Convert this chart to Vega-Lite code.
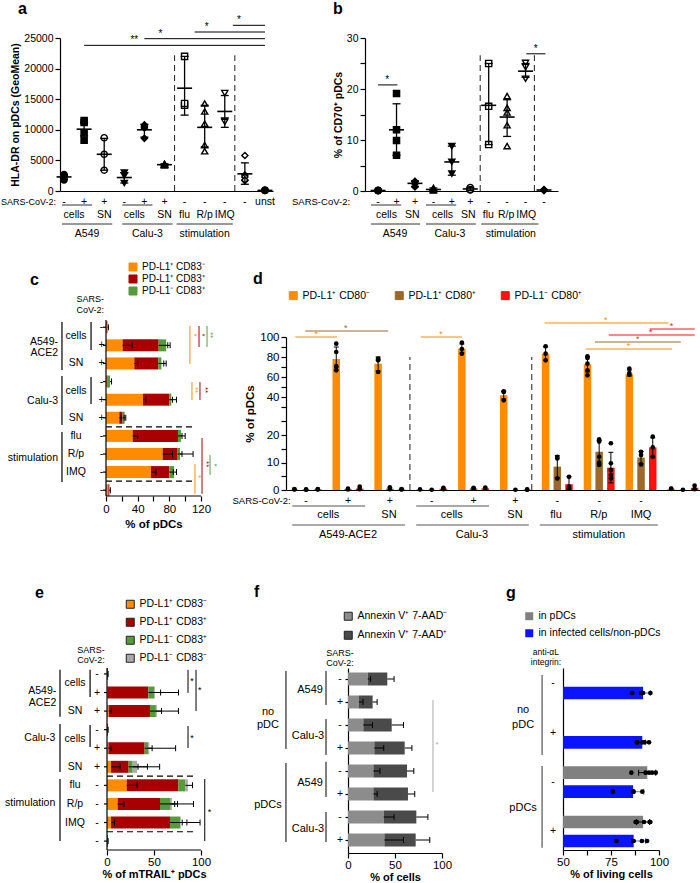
{
"$schema": "https://vega.github.io/schema/vega-lite/v6.json",
"padding": {"left": 0, "top": 0, "right": 0, "bottom": 0},
"columns": 1,
"align": "none",
"spacing": 22,
"resolve": {"scale": {"color": "independent", "fill": "independent", "shape": "independent", "stroke": "independent"}},
"config": {
  "font": "Liberation Sans",
  "view": {"stroke": null},
  "axis": {"grid": false, "domainColor": "#000", "tickColor": "#000", "labelColor": "#000", "titleColor": "#000", "labelFontSize": 10.5, "titleFontSize": 10.5, "titleFontWeight": "bold", "tickSize": 5, "labelPadding": 2, "titlePadding": 4, "domainWidth": 1.2, "tickWidth": 1.2, "labelFlush": false, "labelOverlap": false},
  "legend": {"title": null, "symbolType": "square", "labelFontSize": 10.5, "labelColor": "#000", "symbolStrokeColor": "#222", "symbolStrokeWidth": 1, "symbolSize": 64, "labelOffset": 4, "padding": 0, "direction": "vertical"},
  "text": {"fontSize": 10.5, "color": "#000"},
  "rule": {"color": "#000"},
  "tick": {"color": "#000", "opacity": 1}
},
"datasets": {
  "yt10": [{"x":0,"y":1},{"x":0,"y":2},{"x":0,"y":3},{"x":0,"y":4},{"x":0,"y":5},{"x":0,"y":6},{"x":0,"y":7},{"x":0,"y":8},{"x":0,"y":9},{"x":0,"y":10}],
  "a_pts": [
    {"x":1,"y":1800},{"x":1,"y":2300},{"x":1,"y":2500},{"x":1,"y":2600},{"x":1,"y":2700},
    {"x":2,"y":11500},{"x":2,"y":11200},{"x":2,"y":9500},{"x":2,"y":8300},
    {"x":3,"y":8700},{"x":3,"y":6000},{"x":3,"y":3400},
    {"x":4,"y":3000},{"x":4,"y":2500},{"x":4,"y":1300},
    {"x":5,"y":10800},{"x":5,"y":10300},{"x":5,"y":10500},{"x":5,"y":8600},
    {"x":6,"y":4300},{"x":6,"y":4450},{"x":6,"y":4200},{"x":6,"y":4350},
    {"x":7,"y":22000},{"x":7,"y":14000},{"x":7,"y":14300},
    {"x":8,"y":14300},{"x":8,"y":13000},{"x":8,"y":11000},{"x":8,"y":7500},{"x":8,"y":6500},
    {"x":9,"y":16000},{"x":9,"y":11500},{"x":9,"y":11300},
    {"x":10,"y":5800},{"x":10,"y":2600},{"x":10,"y":2300},{"x":10,"y":1700},{"x":10,"y":1800},
    {"x":11,"y":100},{"x":11,"y":80},{"x":11,"y":120},{"x":11,"y":90},{"x":11,"y":110}
  ],
  "a_sum": [
    {"x":1,"y":2300,"lo":1900,"hi":2700},{"x":2,"y":10100,"lo":9000,"hi":11200},{"x":3,"y":6000,"lo":3400,"hi":8600},
    {"x":4,"y":2200,"lo":1300,"hi":3000},{"x":5,"y":10000,"lo":8800,"hi":10900},{"x":6,"y":4300,"lo":4150,"hi":4450},
    {"x":7,"y":16800,"lo":12400,"hi":22000},{"x":8,"y":10400,"lo":7200,"hi":14000},{"x":9,"y":13000,"lo":10400,"hi":15600},
    {"x":10,"y":2800,"lo":1100,"hi":4600},{"x":11,"y":100,"lo":100,"hi":100}
  ],
  "a_sig": [
    {"x":2,"x2":11,"y":23800,"xs":4.5,"t":"**"},{"x":5,"x2":11,"y":24890,"xs":5.8,"t":"*"},
    {"x":7.5,"x2":11,"y":25980,"xs":8.1,"t":"*"},{"x":9.4,"x2":11,"y":27075,"xs":9.7,"t":"*"}
  ],
  "a_dash": [{"x":6.5,"y":0,"y2":22200},{"x":9.5,"y":0,"y2":22200}],
  "a_lab": [
    {"x":0.6,"y":0,"t":"SARS-CoV-2:","lvl":0},
    {"x":1,"y":0,"t":"-","lvl":1},{"x":2,"y":0,"t":"+","lvl":1},{"x":3,"y":0,"t":"+","lvl":1},{"x":4,"y":0,"t":"-","lvl":1},{"x":5,"y":0,"t":"+","lvl":1},{"x":6,"y":0,"t":"+","lvl":1},{"x":7,"y":0,"t":"-","lvl":1},{"x":8,"y":0,"t":"-","lvl":1},{"x":9,"y":0,"t":"-","lvl":1},{"x":10,"y":0,"t":"-","lvl":1},{"x":11,"y":0,"t":"unst","lvl":1},
    {"x":1.5,"y":0,"t":"cells","lvl":2},{"x":3,"y":0,"t":"SN","lvl":2},{"x":4.5,"y":0,"t":"cells","lvl":2},{"x":6,"y":0,"t":"SN","lvl":2},{"x":7,"y":0,"t":"flu","lvl":2},{"x":8,"y":0,"t":"R/p","lvl":2},{"x":9,"y":0,"t":"IMQ","lvl":2},
    {"x":2.15,"y":0,"t":"A549","lvl":3},{"x":5.15,"y":0,"t":"Calu-3","lvl":3},{"x":8,"y":0,"t":"stimulation","lvl":3}
  ],
  "a_line": [{"x":0.9,"x2":2.4,"y":0,"lvl":1},{"x":3.9,"x2":5.4,"y":0,"lvl":1},{"x":0.9,"x2":3.4,"y":0,"lvl":2},{"x":3.9,"x2":6.4,"y":0,"lvl":2},{"x":6.6,"x2":9.4,"y":0,"lvl":2}],
  "b_pts": [
    {"x":1,"y":0.1},{"x":1,"y":0.1},{"x":1,"y":0.15},{"x":1,"y":0.1},{"x":1,"y":0.05},
    {"x":2,"y":19.1},{"x":2,"y":12},{"x":2,"y":9.9},{"x":2,"y":7.0},
    {"x":3,"y":0.8},{"x":3,"y":1.4},{"x":3,"y":1.9},{"x":3,"y":1.8},
    {"x":4,"y":0.1},{"x":4,"y":0.6},{"x":4,"y":0.3},
    {"x":5,"y":8.8},{"x":5,"y":5.7},{"x":5,"y":3.4},
    {"x":6,"y":0.2},{"x":6,"y":0.5},{"x":6,"y":0.7},{"x":6,"y":0.3},
    {"x":7,"y":25},{"x":7,"y":16.6},{"x":7,"y":9.1},
    {"x":8,"y":18.6},{"x":8,"y":16.3},{"x":8,"y":15.4},{"x":8,"y":12.9},{"x":8,"y":8.8},
    {"x":9,"y":25.1},{"x":9,"y":24.3},{"x":9,"y":22},
    {"x":10,"y":0.2},{"x":10,"y":0.1},{"x":10,"y":0.3},{"x":10,"y":0.1}
  ],
  "b_sum": [
    {"x":1,"y":0.1,"lo":0.1,"hi":0.1},{"x":2,"y":12,"lo":7,"hi":17.1},{"x":3,"y":1.5,"lo":0.9,"hi":2.0},
    {"x":4,"y":0.3,"lo":0.05,"hi":0.6},{"x":5,"y":5.7,"lo":3.1,"hi":8.8},{"x":6,"y":0.4,"lo":0.1,"hi":0.7},
    {"x":7,"y":16.8,"lo":9.1,"hi":25},{"x":8,"y":14.5,"lo":10.7,"hi":17.9},{"x":9,"y":23.5,"lo":22.3,"hi":25},
    {"x":10,"y":0.2,"lo":0.1,"hi":0.3}
  ],
  "b_sig": [{"x":1.0,"x2":2.05,"y":20.8,"xs":1.5,"t":"*"},{"x":9.04,"x2":10.08,"y":26.9,"xs":9.55,"t":"*"}],
  "b_dash": [{"x":6.54,"y":0,"y2":26.6},{"x":9.48,"y":0,"y2":26.6}],
  "b_lab": [
    {"x":-0.52,"y":0,"t":"SARS-CoV-2:","lvl":0},
    {"x":1,"y":0,"t":"-","lvl":1},{"x":2,"y":0,"t":"+","lvl":1},{"x":3,"y":0,"t":"+","lvl":1},{"x":4,"y":0,"t":"-","lvl":1},{"x":5,"y":0,"t":"+","lvl":1},{"x":6,"y":0,"t":"+","lvl":1},{"x":7,"y":0,"t":"-","lvl":1},{"x":8,"y":0,"t":"-","lvl":1},{"x":9,"y":0,"t":"-","lvl":1},{"x":10,"y":0,"t":"-","lvl":1},
    {"x":1.45,"y":0,"t":"cells","lvl":2},{"x":2.85,"y":0,"t":"SN","lvl":2},{"x":4.5,"y":0,"t":"cells","lvl":2},{"x":5.9,"y":0,"t":"SN","lvl":2},{"x":6.98,"y":0,"t":"flu","lvl":2},{"x":7.95,"y":0,"t":"R/p","lvl":2},{"x":9.04,"y":0,"t":"IMQ","lvl":2},
    {"x":1.92,"y":0,"t":"A549","lvl":3},{"x":4.9,"y":0,"t":"Calu-3","lvl":3},{"x":8.2,"y":0,"t":"stimulation","lvl":3}
  ],
  "b_line": [{"x":0.62,"x2":2.25,"y":0,"lvl":1},{"x":3.6,"x2":5.24,"y":0,"lvl":1},{"x":0.62,"x2":3.28,"y":0,"lvl":2},{"x":3.6,"x2":6.3,"y":0,"lvl":2},{"x":6.6,"x2":9.7,"y":0,"lvl":2}],
  "c_seg": [
    {"y":1,"ser":"PD-L1⁺ CD83⁻","x":0,"x2":0.7},{"y":1,"ser":"PD-L1⁺ CD83⁺","x":0.7,"x2":1.3},{"y":1,"ser":"PD-L1⁻ CD83⁺","x":1.3,"x2":2},
    {"y":2,"ser":"PD-L1⁺ CD83⁻","x":0,"x2":21},{"y":2,"ser":"PD-L1⁺ CD83⁺","x":21,"x2":66.5},{"y":2,"ser":"PD-L1⁻ CD83⁺","x":66.5,"x2":76},
    {"y":3,"ser":"PD-L1⁺ CD83⁻","x":0,"x2":35.8},{"y":3,"ser":"PD-L1⁺ CD83⁺","x":35.8,"x2":66},{"y":3,"ser":"PD-L1⁻ CD83⁺","x":66,"x2":70},
    {"y":4,"ser":"PD-L1⁺ CD83⁻","x":0,"x2":1},{"y":4,"ser":"PD-L1⁺ CD83⁺","x":1,"x2":2},{"y":4,"ser":"PD-L1⁻ CD83⁺","x":2,"x2":5},
    {"y":5,"ser":"PD-L1⁺ CD83⁻","x":0,"x2":46.7},{"y":5,"ser":"PD-L1⁺ CD83⁺","x":46.7,"x2":80},{"y":5,"ser":"PD-L1⁻ CD83⁺","x":80,"x2":82.5},
    {"y":6,"ser":"PD-L1⁺ CD83⁻","x":0,"x2":16.8},{"y":6,"ser":"PD-L1⁺ CD83⁺","x":16.8,"x2":21},{"y":6,"ser":"PD-L1⁻ CD83⁺","x":21,"x2":23.6},
    {"y":7,"ser":"PD-L1⁺ CD83⁻","x":0,"x2":33.7},{"y":7,"ser":"PD-L1⁺ CD83⁺","x":33.7,"x2":91},{"y":7,"ser":"PD-L1⁻ CD83⁺","x":91,"x2":94.7},
    {"y":8,"ser":"PD-L1⁺ CD83⁻","x":0,"x2":71.6},{"y":8,"ser":"PD-L1⁺ CD83⁺","x":71.6,"x2":90.5},{"y":8,"ser":"PD-L1⁻ CD83⁺","x":90.5,"x2":93.5},
    {"y":9,"ser":"PD-L1⁺ CD83⁻","x":0,"x2":56.8},{"y":9,"ser":"PD-L1⁺ CD83⁺","x":56.8,"x2":80},{"y":9,"ser":"PD-L1⁻ CD83⁺","x":80,"x2":86},
    {"y":10,"ser":"PD-L1⁺ CD83⁻","x":0,"x2":3},{"y":10,"ser":"PD-L1⁺ CD83⁺","x":3,"x2":4},{"y":10,"ser":"PD-L1⁻ CD83⁺","x":4,"x2":4.5}
  ],
  "c_err": [
    {"y":1,"x":2,"x2":3},
    {"y":2,"x":21,"x2":33},{"y":2,"x":66.5,"x2":78},{"y":2,"x":76,"x2":81},
    {"y":3,"x":35.8,"x2":40},{"y":3,"x":66,"x2":73},{"y":3,"x":70,"x2":76},
    {"y":4,"x":5,"x2":7},
    {"y":5,"x":46.7,"x2":50.5},{"y":5,"x":80,"x2":84},{"y":5,"x":82.5,"x2":89},
    {"y":6,"x":16.8,"x2":19},{"y":6,"x":21,"x2":23},{"y":6,"x":23.6,"x2":25},
    {"y":7,"x":33.7,"x2":40},{"y":7,"x":91,"x2":96},{"y":7,"x":94.7,"x2":100},
    {"y":8,"x":71.6,"x2":84},{"y":8,"x":90.5,"x2":110},{"y":8,"x":93.5,"x2":96},
    {"y":9,"x":56.8,"x2":63},{"y":9,"x":80,"x2":85},{"y":9,"x":86,"x2":89},
    {"y":10,"x":4,"x2":5.5}
  ],
  "c_sig": [
    {"x":106,"y":0.93,"y2":3.03,"ser":"PD-L1⁺ CD83⁻"},{"x":117.5,"y":0.93,"y2":2.09,"ser":"PD-L1⁺ CD83⁺"},{"x":127.6,"y":0.93,"y2":2.09,"ser":"PD-L1⁻ CD83⁺"},
    {"x":108.6,"y":4.03,"y2":5.02,"ser":"PD-L1⁺ CD83⁻"},{"x":118.7,"y":4.03,"y2":5.02,"ser":"PD-L1⁺ CD83⁺"},
    {"x":112.4,"y":8.56,"y2":10.2,"ser":"PD-L1⁺ CD83⁻"},{"x":121.3,"y":7.12,"y2":10.2,"ser":"PD-L1⁺ CD83⁺"},{"x":131.4,"y":8.06,"y2":9.16,"ser":"PD-L1⁻ CD83⁺"}
  ],
  "c_star": [
    {"x":110.7,"y":1.43,"t":"*","ser":"PD-L1⁺ CD83⁻"},{"x":121,"y":1.43,"t":"*","ser":"PD-L1⁺ CD83⁺"},{"x":131.7,"y":1.43,"t":"**","ser":"PD-L1⁻ CD83⁺"},
    {"x":112.8,"y":4.47,"t":"**","ser":"PD-L1⁺ CD83⁻"},{"x":124.5,"y":4.47,"t":"**","ser":"PD-L1⁺ CD83⁺"},
    {"x":116.2,"y":9.25,"t":"*","ser":"PD-L1⁺ CD83⁻"},{"x":126.7,"y":8.56,"t":"**","ser":"PD-L1⁺ CD83⁺"},{"x":135.9,"y":8.61,"t":"*","ser":"PD-L1⁻ CD83⁺"}
  ],
  "c_dash": [{"y":6.5,"x":0,"x2":110},{"y":9.5,"x":0,"x2":110}],
  "c_lab": [
    {"x":-5.7,"y":1,"t":"-","k":"s"},{"x":-5.7,"y":2,"t":"+","k":"s"},{"x":-5.7,"y":3,"t":"+","k":"s"},{"x":-5.7,"y":4,"t":"-","k":"s"},{"x":-5.7,"y":5,"t":"+","k":"s"},
    {"x":-5.7,"y":6,"t":"+","k":"s"},{"x":-5.7,"y":7,"t":"-","k":"s"},{"x":-5.7,"y":8,"t":"-","k":"s"},{"x":-5.7,"y":9,"t":"-","k":"s"},{"x":-5.7,"y":10,"t":"-","k":"s"},
    {"x":-37.9,"y":1.5,"t":"cells","k":"m"},{"x":-37.9,"y":3,"t":"SN","k":"m"},{"x":-37.9,"y":4.5,"t":"cells","k":"m"},{"x":-37.9,"y":6,"t":"SN","k":"m"},
    {"x":-37.9,"y":7,"t":"flu","k":"m"},{"x":-37.9,"y":8,"t":"R/p","k":"m"},{"x":-37.9,"y":9,"t":"IMQ","k":"m"},
    {"x":-60.6,"y":1.82,"t":["A549-","ACE2"],"k":"g"},{"x":-60.6,"y":5.07,"t":"Calu-3","k":"g"},{"x":-60.6,"y":8.2,"t":"stimulation","k":"g"},
    {"x":-20,"y":-0.56,"t":["SARS-","CoV-2:"],"k":"c"}
  ],
  "c_vl": [
    {"x":-55.6,"y":0.71,"y2":3.36},{"x":-55.6,"y":3.69,"y2":6.4},{"x":-55.6,"y":6.79,"y2":9.55},
    {"x":-18.9,"y":0.71,"y2":2.26},{"x":-18.9,"y":3.75,"y2":5.24},
    {"x":0,"y":0.6,"y2":10.32}
  ],
  "d_bar": [
    {"x":1,"ser":"PD-L1⁺ CD80⁻","y":0.2},{"x":1,"ser":"PD-L1⁺ CD80⁺","y":0.1},{"x":1,"ser":"PD-L1⁻ CD80⁺","y":0.2},
    {"x":2,"ser":"PD-L1⁺ CD80⁻","y":78},{"x":2,"ser":"PD-L1⁺ CD80⁺","y":0.3},{"x":2,"ser":"PD-L1⁻ CD80⁺","y":0.5},
    {"x":3,"ser":"PD-L1⁺ CD80⁻","y":73.3},{"x":3,"ser":"PD-L1⁺ CD80⁺","y":0.5},{"x":3,"ser":"PD-L1⁻ CD80⁺","y":0.2},
    {"x":4,"ser":"PD-L1⁺ CD80⁻","y":0.2},{"x":4,"ser":"PD-L1⁺ CD80⁺","y":0.1},{"x":4,"ser":"PD-L1⁻ CD80⁺","y":0.5},
    {"x":5,"ser":"PD-L1⁺ CD80⁻","y":88.3},{"x":5,"ser":"PD-L1⁺ CD80⁺","y":0.6},{"x":5,"ser":"PD-L1⁻ CD80⁺","y":0.6},
    {"x":6,"ser":"PD-L1⁺ CD80⁻","y":41.7},{"x":6,"ser":"PD-L1⁺ CD80⁺","y":0.05},{"x":6,"ser":"PD-L1⁻ CD80⁺","y":0.1},
    {"x":7,"ser":"PD-L1⁺ CD80⁻","y":83.3},{"x":7,"ser":"PD-L1⁺ CD80⁺","y":8.5},{"x":7,"ser":"PD-L1⁻ CD80⁺","y":2.1},
    {"x":8,"ser":"PD-L1⁺ CD80⁻","y":72.7},{"x":8,"ser":"PD-L1⁺ CD80⁺","y":13.9},{"x":8,"ser":"PD-L1⁻ CD80⁺","y":8.1},
    {"x":9,"ser":"PD-L1⁺ CD80⁻","y":63.3},{"x":9,"ser":"PD-L1⁺ CD80⁺","y":11.8},{"x":9,"ser":"PD-L1⁻ CD80⁺","y":15.5},
    {"x":10,"ser":"PD-L1⁺ CD80⁻","y":0.4},{"x":10,"ser":"PD-L1⁺ CD80⁺","y":0.05},{"x":10,"ser":"PD-L1⁻ CD80⁺","y":0.8}
  ],
  "d_err": [
    {"x":2,"ser":"PD-L1⁺ CD80⁻","lo":67,"hi":90},{"x":3,"ser":"PD-L1⁺ CD80⁻","lo":66,"hi":80},{"x":5,"ser":"PD-L1⁺ CD80⁻","lo":84,"hi":93},
    {"x":6,"ser":"PD-L1⁺ CD80⁻","lo":38,"hi":46},{"x":7,"ser":"PD-L1⁺ CD80⁻","lo":77,"hi":90},{"x":7,"ser":"PD-L1⁺ CD80⁺","lo":4.5,"hi":12.5},
    {"x":7,"ser":"PD-L1⁻ CD80⁺","lo":0.2,"hi":4.8},{"x":8,"ser":"PD-L1⁺ CD80⁻","lo":65,"hi":80},{"x":8,"ser":"PD-L1⁺ CD80⁺","lo":9.5,"hi":18},
    {"x":8,"ser":"PD-L1⁻ CD80⁺","lo":2.6,"hi":13.7},{"x":9,"ser":"PD-L1⁺ CD80⁻","lo":61,"hi":67},{"x":9,"ser":"PD-L1⁺ CD80⁺","lo":9.6,"hi":14},
    {"x":9,"ser":"PD-L1⁻ CD80⁺","lo":12,"hi":19}
  ],
  "d_pts": [
    {"x":1,"ser":"PD-L1⁺ CD80⁻","y":0.2},{"x":1,"ser":"PD-L1⁺ CD80⁻","y":0.3},{"x":1,"ser":"PD-L1⁺ CD80⁺","y":0.1},{"x":1,"ser":"PD-L1⁺ CD80⁺","y":0.2},{"x":1,"ser":"PD-L1⁻ CD80⁺","y":0.2},{"x":1,"ser":"PD-L1⁻ CD80⁺","y":0.3},
    {"x":2,"ser":"PD-L1⁺ CD80⁻","y":93.3},{"x":2,"ser":"PD-L1⁺ CD80⁻","y":85},{"x":2,"ser":"PD-L1⁺ CD80⁻","y":71},{"x":2,"ser":"PD-L1⁺ CD80⁻","y":66.7},{"x":2,"ser":"PD-L1⁺ CD80⁻","y":70},
    {"x":2,"ser":"PD-L1⁺ CD80⁺","y":0.2},{"x":2,"ser":"PD-L1⁺ CD80⁺","y":0.5},{"x":2,"ser":"PD-L1⁻ CD80⁺","y":0.3},{"x":2,"ser":"PD-L1⁻ CD80⁺","y":1.2},
    {"x":3,"ser":"PD-L1⁺ CD80⁻","y":78.3},{"x":3,"ser":"PD-L1⁺ CD80⁻","y":76.7},{"x":3,"ser":"PD-L1⁺ CD80⁻","y":77.5},{"x":3,"ser":"PD-L1⁺ CD80⁻","y":65},
    {"x":3,"ser":"PD-L1⁺ CD80⁺","y":0.3},{"x":3,"ser":"PD-L1⁺ CD80⁺","y":1.0},{"x":3,"ser":"PD-L1⁻ CD80⁺","y":0.2},{"x":3,"ser":"PD-L1⁻ CD80⁺","y":0.3},
    {"x":4,"ser":"PD-L1⁺ CD80⁻","y":0.2},{"x":4,"ser":"PD-L1⁺ CD80⁺","y":0.1},{"x":4,"ser":"PD-L1⁻ CD80⁺","y":0.3},{"x":4,"ser":"PD-L1⁻ CD80⁺","y":0.8},
    {"x":5,"ser":"PD-L1⁺ CD80⁻","y":94.3},{"x":5,"ser":"PD-L1⁺ CD80⁻","y":88},{"x":5,"ser":"PD-L1⁺ CD80⁻","y":83.3},
    {"x":5,"ser":"PD-L1⁺ CD80⁺","y":0.5},{"x":5,"ser":"PD-L1⁺ CD80⁺","y":0.8},{"x":5,"ser":"PD-L1⁻ CD80⁺","y":0.5},{"x":5,"ser":"PD-L1⁻ CD80⁺","y":0.9},
    {"x":6,"ser":"PD-L1⁺ CD80⁻","y":45.7},{"x":6,"ser":"PD-L1⁺ CD80⁻","y":45},{"x":6,"ser":"PD-L1⁺ CD80⁻","y":36.7},
    {"x":6,"ser":"PD-L1⁺ CD80⁺","y":0.1},{"x":6,"ser":"PD-L1⁻ CD80⁺","y":0.1},{"x":6,"ser":"PD-L1⁻ CD80⁺","y":0.2},
    {"x":7,"ser":"PD-L1⁺ CD80⁻","y":90.7},{"x":7,"ser":"PD-L1⁺ CD80⁻","y":83.3},{"x":7,"ser":"PD-L1⁺ CD80⁻","y":76.7},
    {"x":7,"ser":"PD-L1⁺ CD80⁺","y":12.1},{"x":7,"ser":"PD-L1⁺ CD80⁺","y":11.5},{"x":7,"ser":"PD-L1⁺ CD80⁺","y":4.2},
    {"x":7,"ser":"PD-L1⁻ CD80⁺","y":4.8},{"x":7,"ser":"PD-L1⁻ CD80⁺","y":1.2},{"x":7,"ser":"PD-L1⁻ CD80⁺","y":0.6},
    {"x":8,"ser":"PD-L1⁺ CD80⁻","y":80.7},{"x":8,"ser":"PD-L1⁺ CD80⁻","y":79},{"x":8,"ser":"PD-L1⁺ CD80⁻","y":73.3},{"x":8,"ser":"PD-L1⁺ CD80⁻","y":66.7},{"x":8,"ser":"PD-L1⁺ CD80⁻","y":61.7},
    {"x":8,"ser":"PD-L1⁺ CD80⁺","y":18.4},{"x":8,"ser":"PD-L1⁺ CD80⁺","y":17.6},{"x":8,"ser":"PD-L1⁺ CD80⁺","y":12.1},{"x":8,"ser":"PD-L1⁺ CD80⁺","y":9.1},{"x":8,"ser":"PD-L1⁺ CD80⁺","y":10},
    {"x":8,"ser":"PD-L1⁻ CD80⁺","y":17},{"x":8,"ser":"PD-L1⁻ CD80⁺","y":9.7},{"x":8,"ser":"PD-L1⁻ CD80⁺","y":7.3},{"x":8,"ser":"PD-L1⁻ CD80⁺","y":5.5},{"x":8,"ser":"PD-L1⁻ CD80⁺","y":4.2},
    {"x":9,"ser":"PD-L1⁺ CD80⁻","y":68.3},{"x":9,"ser":"PD-L1⁺ CD80⁻","y":64},{"x":9,"ser":"PD-L1⁺ CD80⁻","y":62.3},
    {"x":9,"ser":"PD-L1⁺ CD80⁺","y":13.9},{"x":9,"ser":"PD-L1⁺ CD80⁺","y":12.7},{"x":9,"ser":"PD-L1⁺ CD80⁺","y":9.3},
    {"x":9,"ser":"PD-L1⁻ CD80⁺","y":19.4},{"x":9,"ser":"PD-L1⁻ CD80⁺","y":15.5},{"x":9,"ser":"PD-L1⁻ CD80⁺","y":12.1},
    {"x":10,"ser":"PD-L1⁺ CD80⁻","y":0.4},{"x":10,"ser":"PD-L1⁺ CD80⁻","y":0.5},{"x":10,"ser":"PD-L1⁺ CD80⁺","y":0.1},{"x":10,"ser":"PD-L1⁻ CD80⁺","y":0.3},{"x":10,"ser":"PD-L1⁻ CD80⁺","y":1.6}
  ],
  "d_sig": [
    {"x":0.74,"x2":1.74,"y":100,"xs":1.24,"ser":"PD-L1⁺ CD80⁻"},{"x":0.98,"x2":2.96,"y":106,"xs":1.95,"ser":"PD-L1⁺ CD80⁺"},
    {"x":3.74,"x2":4.72,"y":100,"xs":4.22,"ser":"PD-L1⁺ CD80⁻"},{"x":6.7,"x2":9.66,"y":114,"xs":8.16,"ser":"PD-L1⁺ CD80⁻"},
    {"x":9.21,"x2":10.28,"y":108,"xs":9.73,"ser":"PD-L1⁻ CD80⁺"},{"x":8.23,"x2":10.28,"y":102,"xs":9.23,"ser":"PD-L1⁻ CD80⁺"},
    {"x":7.9,"x2":9.95,"y":95,"xs":8.92,"ser":"PD-L1⁺ CD80⁺"},{"x":7.68,"x2":9.74,"y":88,"xs":8.7,"ser":"PD-L1⁺ CD80⁻"}
  ],
  "d_dash": [{"x":3.48,"y":0,"y2":80},{"x":6.39,"y":0,"y2":80}],
  "d_lab": [
    {"x":0.63,"y":0,"t":"SARS-CoV-2:","lvl":0},
    {"x":1,"y":0,"t":"-","lvl":1},{"x":2,"y":0,"t":"+","lvl":1},{"x":3,"y":0,"t":"+","lvl":1},{"x":4,"y":0,"t":"-","lvl":1},{"x":5,"y":0,"t":"+","lvl":1},{"x":6,"y":0,"t":"+","lvl":1},{"x":7,"y":0,"t":"-","lvl":1},{"x":8,"y":0,"t":"-","lvl":1},{"x":9,"y":0,"t":"-","lvl":1},
    {"x":1.53,"y":0,"t":"cells","lvl":2},{"x":2.98,"y":0,"t":"SN","lvl":2},{"x":4.48,"y":0,"t":"cells","lvl":2},{"x":5.99,"y":0,"t":"SN","lvl":2},{"x":6.97,"y":0,"t":"flu","lvl":2},{"x":7.99,"y":0,"t":"R/p","lvl":2},{"x":9.0,"y":0,"t":"IMQ","lvl":2},
    {"x":2.0,"y":0,"t":"A549-ACE2","lvl":3},{"x":4.96,"y":0,"t":"Calu-3","lvl":3},{"x":7.99,"y":0,"t":"stimulation","lvl":3}
  ],
  "d_line": [{"x":0.67,"x2":2.41,"y":0,"lvl":1},{"x":3.63,"x2":5.37,"y":0,"lvl":1},{"x":0.67,"x2":3.36,"y":0,"lvl":2},{"x":3.63,"x2":6.32,"y":0,"lvl":2},{"x":6.58,"x2":9.4,"y":0,"lvl":2}],
  "e_seg": [
    {"y":1,"ser":"PD-L1⁺ CD83⁺","x":0,"x2":0.8},
    {"y":2,"ser":"PD-L1⁺ CD83⁻","x":0,"x2":0.5},{"y":2,"ser":"PD-L1⁺ CD83⁺","x":0.5,"x2":44},{"y":2,"ser":"PD-L1⁻ CD83⁺","x":44,"x2":50.4},{"y":2,"ser":"PD-L1⁻ CD83⁻","x":50.4,"x2":51},
    {"y":3,"ser":"PD-L1⁺ CD83⁻","x":0,"x2":1.8},{"y":3,"ser":"PD-L1⁺ CD83⁺","x":1.8,"x2":45.7},{"y":3,"ser":"PD-L1⁻ CD83⁺","x":45.7,"x2":52},{"y":3,"ser":"PD-L1⁻ CD83⁻","x":52,"x2":53},
    {"y":4,"ser":"PD-L1⁺ CD83⁺","x":0,"x2":0.8},
    {"y":5,"ser":"PD-L1⁺ CD83⁻","x":0,"x2":1.5},{"y":5,"ser":"PD-L1⁺ CD83⁺","x":1.5,"x2":40},{"y":5,"ser":"PD-L1⁻ CD83⁺","x":40,"x2":44},{"y":5,"ser":"PD-L1⁻ CD83⁻","x":44,"x2":45},
    {"y":6,"ser":"PD-L1⁺ CD83⁻","x":0,"x2":4.3},{"y":6,"ser":"PD-L1⁺ CD83⁺","x":4.3,"x2":23},{"y":6,"ser":"PD-L1⁻ CD83⁺","x":23,"x2":27.3},{"y":6,"ser":"PD-L1⁻ CD83⁻","x":27.3,"x2":32},
    {"y":7,"ser":"PD-L1⁺ CD83⁻","x":0,"x2":21},{"y":7,"ser":"PD-L1⁺ CD83⁺","x":21,"x2":76},{"y":7,"ser":"PD-L1⁻ CD83⁺","x":76,"x2":83.3},{"y":7,"ser":"PD-L1⁻ CD83⁻","x":83.3,"x2":86},
    {"y":8,"ser":"PD-L1⁺ CD83⁻","x":0,"x2":11.3},{"y":8,"ser":"PD-L1⁺ CD83⁺","x":11.3,"x2":56.4},{"y":8,"ser":"PD-L1⁻ CD83⁺","x":56.4,"x2":67},{"y":8,"ser":"PD-L1⁻ CD83⁻","x":67,"x2":69},
    {"y":9,"ser":"PD-L1⁺ CD83⁻","x":0,"x2":4.3},{"y":9,"ser":"PD-L1⁺ CD83⁺","x":4.3,"x2":67},{"y":9,"ser":"PD-L1⁻ CD83⁺","x":67,"x2":78},{"y":9,"ser":"PD-L1⁻ CD83⁻","x":78,"x2":78.5},
    {"y":10,"ser":"PD-L1⁺ CD83⁺","x":0,"x2":0.8}
  ],
  "e_err": [
    {"y":1,"x":0.8,"x2":1.2},
    {"y":2,"x":44,"x2":57},{"y":2,"x":50.4,"x2":76},
    {"y":3,"x":1.8,"x2":4.5},{"y":3,"x":45.7,"x2":58},{"y":3,"x":52,"x2":76},
    {"y":4,"x":0.8,"x2":1.2},
    {"y":5,"x":1.5,"x2":4.5},{"y":5,"x":40,"x2":48},{"y":5,"x":44,"x2":73},
    {"y":6,"x":4.3,"x2":14},{"y":6,"x":23,"x2":33},{"y":6,"x":27.3,"x2":43},{"y":6,"x":32,"x2":56},
    {"y":7,"x":21,"x2":32},{"y":7,"x":83.3,"x2":91},
    {"y":8,"x":11.3,"x2":18},{"y":8,"x":56.4,"x2":72},{"y":8,"x":67,"x2":75},{"y":8,"x":69,"x2":92},
    {"y":9,"x":4.3,"x2":8},{"y":9,"x":67,"x2":80},{"y":9,"x":78,"x2":85},{"y":9,"x":78.5,"x2":99},
    {"y":10,"x":0.8,"x2":1.2}
  ],
  "e_sig": [{"x":86.2,"y":0.78,"y2":2.02},{"x":94.7,"y":0.78,"y2":3.0},{"x":86.2,"y":3.8,"y2":4.99},{"x":104,"y":6.66,"y2":10.0}],
  "e_star": [{"x":90.4,"y":1.38,"t":"*"},{"x":98.6,"y":1.86,"t":"*"},{"x":90.4,"y":4.45,"t":"*"},{"x":109,"y":8.43,"t":"*"}],
  "e_dash": [{"y":6.5,"x":0,"x2":91.5},{"y":9.5,"x":0,"x2":91.5}],
  "e_lab": [
    {"x":-10.6,"y":1,"t":"-","k":"s"},{"x":-10.6,"y":2,"t":"+","k":"s"},{"x":-10.6,"y":3,"t":"+","k":"s"},{"x":-10.6,"y":4,"t":"-","k":"s"},{"x":-10.6,"y":5,"t":"+","k":"s"},
    {"x":-10.6,"y":6,"t":"+","k":"s"},{"x":-10.6,"y":7,"t":"-","k":"s"},{"x":-10.6,"y":8,"t":"-","k":"s"},{"x":-10.6,"y":9,"t":"-","k":"s"},{"x":-10.6,"y":10,"t":"-","k":"s"},
    {"x":-34,"y":1.5,"t":"cells","k":"m"},{"x":-34,"y":3,"t":"SN","k":"m"},{"x":-34,"y":4.5,"t":"cells","k":"m"},{"x":-34,"y":6,"t":"SN","k":"m"},
    {"x":-34,"y":7,"t":"flu","k":"m"},{"x":-34,"y":8,"t":"R/p","k":"m"},{"x":-34,"y":9,"t":"IMQ","k":"m"},
    {"x":-54,"y":1.92,"t":["A549-","ACE2"],"k":"g"},{"x":-55,"y":4.45,"t":"Calu-3","k":"g"},{"x":-55,"y":7.95,"t":"stimulation","k":"g"},
    {"x":-17,"y":-0.29,"t":["SARS-","CoV-2:"],"k":"c"}
  ],
  "e_vl": [
    {"x":-50,"y":0.78,"y2":3.31},{"x":-50,"y":3.69,"y2":6.28},{"x":-50,"y":6.66,"y2":10.0},
    {"x":-18,"y":0.78,"y2":2.24},{"x":-18,"y":3.75,"y2":4.93},
    {"x":0,"y":0.68,"y2":10.48}
  ],
  "f_seg": [
    {"y":1,"ser":"Annexin V⁺ 7-AAD⁻","x":0,"x2":21},{"y":1,"ser":"Annexin V⁺ 7-AAD⁺","x":21,"x2":41.8},
    {"y":2,"ser":"Annexin V⁺ 7-AAD⁻","x":0,"x2":11.7},{"y":2,"ser":"Annexin V⁺ 7-AAD⁺","x":11.7,"x2":26.2},
    {"y":3,"ser":"Annexin V⁺ 7-AAD⁻","x":0,"x2":16.3},{"y":3,"ser":"Annexin V⁺ 7-AAD⁺","x":16.3,"x2":46.5},
    {"y":4,"ser":"Annexin V⁺ 7-AAD⁻","x":0,"x2":28},{"y":4,"ser":"Annexin V⁺ 7-AAD⁺","x":28,"x2":60.3},
    {"y":5,"ser":"Annexin V⁺ 7-AAD⁻","x":0,"x2":27},{"y":5,"ser":"Annexin V⁺ 7-AAD⁺","x":27,"x2":62.8},
    {"y":6,"ser":"Annexin V⁺ 7-AAD⁻","x":0,"x2":27},{"y":6,"ser":"Annexin V⁺ 7-AAD⁺","x":27,"x2":63.8},
    {"y":7,"ser":"Annexin V⁺ 7-AAD⁻","x":0,"x2":38},{"y":7,"ser":"Annexin V⁺ 7-AAD⁺","x":38,"x2":72.7},
    {"y":8,"ser":"Annexin V⁺ 7-AAD⁻","x":0,"x2":38.7},{"y":8,"ser":"Annexin V⁺ 7-AAD⁺","x":38.7,"x2":72}
  ],
  "f_err": [
    {"y":1,"x":21,"x2":24},{"y":1,"x":41.8,"x2":49},{"y":2,"x":11.7,"x2":16},{"y":2,"x":26.2,"x2":31},
    {"y":3,"x":16.3,"x2":26},{"y":3,"x":46.5,"x2":59},{"y":4,"x":28,"x2":38},{"y":4,"x":60.3,"x2":68},
    {"y":5,"x":27,"x2":34},{"y":5,"x":62.8,"x2":70},{"y":6,"x":27,"x2":31},{"y":6,"x":63.8,"x2":71},
    {"y":7,"x":38,"x2":49},{"y":7,"x":72.7,"x2":85},{"y":8,"x":38.7,"x2":59},{"y":8,"x":72,"x2":87}
  ],
  "f_lab": [
    {"x":-8.5,"y":1,"t":"-","k":"s"},{"x":-8.5,"y":2,"t":"+","k":"s"},{"x":-8.5,"y":3,"t":"-","k":"s"},{"x":-8.5,"y":4,"t":"+","k":"s"},
    {"x":-8.5,"y":5,"t":"-","k":"s"},{"x":-8.5,"y":6,"t":"+","k":"s"},{"x":-8.5,"y":7,"t":"-","k":"s"},{"x":-8.5,"y":8,"t":"+","k":"s"},
    {"x":-40.4,"y":1.5,"t":"A549","k":"m"},{"x":-42.6,"y":3.5,"t":"Calu-3","k":"m"},{"x":-40.4,"y":5.5,"t":"A549","k":"m"},{"x":-42.6,"y":7.5,"t":"Calu-3","k":"m"},
    {"x":-85.1,"y":2.45,"t":["no","pDC"],"k":"m"},{"x":-85.1,"y":6.48,"t":"pDCs","k":"m"},
    {"x":-8.5,"y":-0.13,"t":["SARS-","CoV-2:"],"k":"c"}
  ],
  "f_vl": [
    {"x":-23.4,"y":0.65,"y2":2.13},{"x":-23.4,"y":2.74,"y2":4.3},{"x":-23.4,"y":4.6,"y2":6.13},{"x":-23.4,"y":6.78,"y2":8.09},
    {"x":-66,"y":0.65,"y2":4.04},{"x":-66,"y":4.65,"y2":8.09}
  ],
  "g_bar": [
    {"y":1,"ser":"in infected cells/non-pDCs","x":91.7},{"y":2,"ser":"in infected cells/non-pDCs","x":91.3},
    {"y":3,"ser":"in pDCs","x":93.9},{"y":3,"ser":"in infected cells/non-pDCs","x":86.5},
    {"y":4,"ser":"in pDCs","x":91.7},{"y":4,"ser":"in infected cells/non-pDCs","x":86.8}
  ],
  "g_pts": [
    {"y":1,"ser":"in infected cells/non-pDCs","x":86.1},{"y":1,"ser":"in infected cells/non-pDCs","x":91.1},{"y":1,"ser":"in infected cells/non-pDCs","x":91.7},{"y":1,"ser":"in infected cells/non-pDCs","x":95.5},{"y":1,"ser":"in infected cells/non-pDCs","x":90.8},
    {"y":2,"ser":"in infected cells/non-pDCs","x":88.5},{"y":2,"ser":"in infected cells/non-pDCs","x":88.7},{"y":2,"ser":"in infected cells/non-pDCs","x":92.5},{"y":2,"ser":"in infected cells/non-pDCs","x":94.8},{"y":2,"ser":"in infected cells/non-pDCs","x":91.3},
    {"y":3,"ser":"in pDCs","x":85.6},{"y":3,"ser":"in pDCs","x":94.8},{"y":3,"ser":"in pDCs","x":96.4},{"y":3,"ser":"in pDCs","x":98.3},{"y":3,"ser":"in pDCs","x":93},
    {"y":3,"ser":"in infected cells/non-pDCs","x":76},{"y":3,"ser":"in infected cells/non-pDCs","x":86.5},{"y":3,"ser":"in infected cells/non-pDCs","x":91.3},{"y":3,"ser":"in infected cells/non-pDCs","x":86.8},
    {"y":4,"ser":"in pDCs","x":87.8},{"y":4,"ser":"in pDCs","x":88.5},{"y":4,"ser":"in pDCs","x":92.2},{"y":4,"ser":"in pDCs","x":95.1},{"y":4,"ser":"in pDCs","x":95.5},
    {"y":4,"ser":"in infected cells/non-pDCs","x":77.8},{"y":4,"ser":"in infected cells/non-pDCs","x":86.5},{"y":4,"ser":"in infected cells/non-pDCs","x":91.1},{"y":4,"ser":"in infected cells/non-pDCs","x":93.8},{"y":4,"ser":"in infected cells/non-pDCs","x":86.8}
  ],
  "g_errP": [{"y":3,"x":89.4,"x2":98.3},{"y":4,"x":88.3,"x2":95.1}],
  "g_errB": [{"y":1,"x":91.7,"x2":95.5},{"y":2,"x":91.3,"x2":93},{"y":3,"x":86.5,"x2":92},{"y":4,"x":86.8,"x2":93}],
  "g_lab": [
    {"x":44.8,"y":1,"t":"-","k":"s"},{"x":44.8,"y":2,"t":"+","k":"s"},{"x":44.8,"y":3,"t":"-","k":"s"},{"x":44.8,"y":4,"t":"+","k":"s"},
    {"x":29.2,"y":1.54,"t":["no","pDC"],"k":"m"},{"x":29.2,"y":3.52,"t":"pDCs","k":"m"},
    {"x":41.1,"y":0.36,"t":["anti-αL","integrin:"],"k":"c"}
  ],
  "g_vl": [{"x":39.1,"y":0.83,"y2":2.45},{"x":39.1,"y":2.67,"y2":4.33}]
},
"concat": [
{
  "hconcat": [
  {
    "width": 213, "height": 153,
    "encoding": {
      "x": {"field": "x", "type": "quantitative", "scale": {"domain": [0.8, 11.4], "nice": false, "zero": false}, "axis": {"labels": false, "ticks": false, "title": null}},
      "y": {"field": "y", "type": "quantitative", "scale": {"domain": [0, 25000], "nice": false}, "axis": {"values": [0, 5000, 10000, 15000, 20000, 25000], "format": "d", "title": "HLA-DR on pDCs (GeoMean)", "titlePadding": 3}}
    },
    "layer": [
      {"data": {"name": "a_dash"}, "mark": {"type": "rule", "strokeDash": [6, 4], "strokeWidth": 1.1, "color": "#333"}, "encoding": {"y2": {"field": "y2"}}},
      {"data": {"name": "a_pts"}, "mark": {"type": "point", "filled": true, "size": 38, "stroke": "#000", "strokeWidth": 1.4, "opacity": 1},
       "encoding": {
         "shape": {"field": "x", "type": "nominal", "scale": {"domain": [1,2,3,4,5,6,7,8,9,10,11], "range": ["circle","square","circle","triangle-down","diamond","triangle-up","square","triangle-up","triangle-down","diamond","circle"]}, "legend": null},
         "fill": {"field": "x", "type": "nominal", "scale": {"domain": [1,2,3,4,5,6,7,8,9,10,11], "range": ["#000","#000","#fff","#000","#000","#000","#fff","#fff","#fff","#fff","#000"]}, "legend": null}}},
      {"data": {"name": "a_sum"}, "mark": {"type": "rule", "strokeWidth": 1.3}, "encoding": {"y": {"field": "lo", "type": "quantitative"}, "y2": {"field": "hi"}}},
      {"data": {"name": "a_sum"}, "mark": {"type": "tick", "orient": "horizontal", "size": 8, "thickness": 1.3, "opacity": 1}, "encoding": {"y": {"field": "lo", "type": "quantitative"}}},
      {"data": {"name": "a_sum"}, "mark": {"type": "tick", "orient": "horizontal", "size": 8, "thickness": 1.3, "opacity": 1}, "encoding": {"y": {"field": "hi", "type": "quantitative"}}},
      {"data": {"name": "a_sum"}, "mark": {"type": "tick", "orient": "horizontal", "size": 15, "thickness": 1.6, "opacity": 1}},
      {"data": {"name": "a_sig"}, "mark": {"type": "rule", "strokeWidth": 1}, "encoding": {"x2": {"field": "x2"}}},
      {"data": {"name": "a_sig"}, "mark": {"type": "text", "dy": -5, "fontSize": 10, "color": "#000"}, "encoding": {"x": {"field": "xs", "type": "quantitative"}, "text": {"field": "t"}}},
      {"data": {"name": "a_lab"}, "transform": [{"filter": "datum.lvl == 0"}], "mark": {"type": "text", "align": "right", "dy": 11, "fontSize": 9, "color": "#000"}, "encoding": {"text": {"field": "t"}}},
      {"data": {"name": "a_lab"}, "transform": [{"filter": "datum.lvl == 1"}], "mark": {"type": "text", "dy": 11, "fontSize": 10.5, "color": "#000"}, "encoding": {"text": {"field": "t"}}},
      {"data": {"name": "a_lab"}, "transform": [{"filter": "datum.lvl == 2"}], "mark": {"type": "text", "dy": 24, "fontSize": 10.5, "color": "#000"}, "encoding": {"text": {"field": "t"}}},
      {"data": {"name": "a_lab"}, "transform": [{"filter": "datum.lvl == 3"}], "mark": {"type": "text", "dy": 43, "fontSize": 10.5, "color": "#000"}, "encoding": {"text": {"field": "t"}}},
      {"data": {"name": "a_line"}, "transform": [{"filter": "datum.lvl == 1"}], "mark": {"type": "rule", "yOffset": 14, "strokeWidth": 1, "color": "#333"}, "encoding": {"x2": {"field": "x2"}}},
      {"data": {"name": "a_line"}, "transform": [{"filter": "datum.lvl == 2"}], "mark": {"type": "rule", "yOffset": 33, "strokeWidth": 1, "color": "#333"}, "encoding": {"x2": {"field": "x2"}}},
      {"data": {"values": [{"x": -1.29, "y": 29740, "t": "a"}]}, "mark": {"type": "text", "align": "left", "fontSize": 16, "fontWeight": "bold", "color": "#000"}, "encoding": {"text": {"field": "t"}}}
    ]
  },
  {
    "width": 193, "height": 153,
    "encoding": {
      "x": {"field": "x", "type": "quantitative", "scale": {"domain": [0.29, 10.76], "nice": false, "zero": false}, "axis": {"labels": false, "ticks": false, "title": null}},
      "y": {"field": "y", "type": "quantitative", "scale": {"domain": [0, 30], "nice": false}, "axis": {"values": [0, 5, 10, 15, 20, 25, 30], "labelExpr": "datum.value % 10 == 0 ? datum.label : ''", "title": "% of CD70⁺ pDCs", "titlePadding": 3}}
    },
    "layer": [
      {"data": {"name": "b_dash"}, "mark": {"type": "rule", "strokeDash": [6, 4], "strokeWidth": 1.1, "color": "#333"}, "encoding": {"y2": {"field": "y2"}}},
      {"data": {"name": "b_pts"}, "mark": {"type": "point", "filled": true, "size": 38, "stroke": "#000", "strokeWidth": 1.4, "opacity": 1},
       "encoding": {
         "shape": {"field": "x", "type": "nominal", "scale": {"domain": [1,2,3,4,5,6,7,8,9,10], "range": ["circle","square","diamond","triangle-up","triangle-down","circle","square","triangle-up","triangle-down","diamond"]}, "legend": null},
         "fill": {"field": "x", "type": "nominal", "scale": {"domain": [1,2,3,4,5,6,7,8,9,10], "range": ["#000","#000","#000","#000","#000","#fff","#fff","#fff","#fff","#000"]}, "legend": null}}},
      {"data": {"name": "b_sum"}, "mark": {"type": "rule", "strokeWidth": 1.3}, "encoding": {"y": {"field": "lo", "type": "quantitative"}, "y2": {"field": "hi"}}},
      {"data": {"name": "b_sum"}, "mark": {"type": "tick", "orient": "horizontal", "size": 8, "thickness": 1.3, "opacity": 1}, "encoding": {"y": {"field": "lo", "type": "quantitative"}}},
      {"data": {"name": "b_sum"}, "mark": {"type": "tick", "orient": "horizontal", "size": 8, "thickness": 1.3, "opacity": 1}, "encoding": {"y": {"field": "hi", "type": "quantitative"}}},
      {"data": {"name": "b_sum"}, "mark": {"type": "tick", "orient": "horizontal", "size": 15, "thickness": 1.6, "opacity": 1}},
      {"data": {"name": "b_sig"}, "mark": {"type": "rule", "strokeWidth": 1}, "encoding": {"x2": {"field": "x2"}}},
      {"data": {"name": "b_sig"}, "mark": {"type": "text", "dy": -5, "fontSize": 10, "color": "#000"}, "encoding": {"x": {"field": "xs", "type": "quantitative"}, "text": {"field": "t"}}},
      {"data": {"name": "b_lab"}, "transform": [{"filter": "datum.lvl == 0"}], "mark": {"type": "text", "align": "right", "dy": 11, "fontSize": 9.5, "color": "#000"}, "encoding": {"text": {"field": "t"}}},
      {"data": {"name": "b_lab"}, "transform": [{"filter": "datum.lvl == 1"}], "mark": {"type": "text", "dy": 11, "fontSize": 10.5, "color": "#000"}, "encoding": {"text": {"field": "t"}}},
      {"data": {"name": "b_lab"}, "transform": [{"filter": "datum.lvl == 2"}], "mark": {"type": "text", "dy": 24, "fontSize": 10.5, "color": "#000"}, "encoding": {"text": {"field": "t"}}},
      {"data": {"name": "b_lab"}, "transform": [{"filter": "datum.lvl == 3"}], "mark": {"type": "text", "dy": 43, "fontSize": 10.5, "color": "#000"}, "encoding": {"text": {"field": "t"}}},
      {"data": {"name": "b_line"}, "transform": [{"filter": "datum.lvl == 1"}], "mark": {"type": "rule", "yOffset": 14, "strokeWidth": 1, "color": "#333"}, "encoding": {"x2": {"field": "x2"}}},
      {"data": {"name": "b_line"}, "transform": [{"filter": "datum.lvl == 2"}], "mark": {"type": "rule", "yOffset": 33, "strokeWidth": 1, "color": "#333"}, "encoding": {"x2": {"field": "x2"}}},
      {"data": {"values": [{"x": -1.45, "y": 35.7, "t": "b"}]}, "mark": {"type": "text", "align": "left", "fontSize": 16, "fontWeight": "bold", "color": "#000"}, "encoding": {"text": {"field": "t"}}}
    ]
  }
  ],
  "spacing": 92, "bounds": "flush",
  "resolve": {"scale": {"color": "independent", "fill": "independent", "shape": "independent", "stroke": "independent"}}
},
{
  "hconcat": [
  {
    "width": 141, "height": 176,
    "encoding": {
      "x": {"field": "x", "type": "quantitative", "scale": {"domain": [-58.1, 120], "nice": false, "zero": false}, "axis": {"domain": false, "values": [0, 20, 40, 60, 80, 100, 120], "labelExpr": "datum.value % 40 == 0 ? datum.label : ''", "title": "% of pDCs", "titleX": 93.5, "labelFontSize": 11.5, "titleFontSize": 11.5}},
      "y": {"field": "y", "type": "quantitative", "scale": {"domain": [0.6, 10.32], "reverse": true, "nice": false, "zero": false, "padding": 0}, "axis": null}
    },
    "layer": [
      {"data": {"name": "c_seg"}, "mark": {"type": "bar", "orient": "horizontal", "size": 12},
       "encoding": {"x2": {"field": "x2"}, "color": {"field": "ser", "type": "nominal", "scale": {"domain": ["PD-L1⁺ CD83⁻", "PD-L1⁺ CD83⁺", "PD-L1⁻ CD83⁺"], "range": ["#FF8C00", "#A80000", "#559B3A"]},
         "legend": {"orient": "none", "legendX": 68, "legendY": -58, "rowPadding": 0, "labelFontSize": 10, "symbolType": "square"}}}},
      {"data": {"values": [{"x": 0, "x2": 120, "y": 10.32}]}, "mark": {"type": "rule", "strokeWidth": 1.2}, "encoding": {"x2": {"field": "x2"}}},
      {"data": {"name": "yt10"}, "mark": {"type": "tick", "orient": "horizontal", "size": 3, "thickness": 1.2, "xOffset": -1.5, "opacity": 1}},
      {"data": {"name": "c_err"}, "mark": {"type": "rule", "strokeWidth": 1}, "encoding": {"x2": {"field": "x2"}}},
      {"data": {"name": "c_err"}, "mark": {"type": "tick", "orient": "vertical", "size": 6, "thickness": 1, "opacity": 1}, "encoding": {"x": {"field": "x2", "type": "quantitative"}}},
      {"data": {"name": "c_dash"}, "mark": {"type": "rule", "strokeDash": [6, 4], "strokeWidth": 1.1}, "encoding": {"x2": {"field": "x2"}}},
      {"data": {"name": "c_sig"}, "mark": {"type": "rule", "strokeWidth": 1}, "encoding": {"y2": {"field": "y2"}, "stroke": {"field": "ser", "type": "nominal", "scale": {"domain": ["PD-L1⁺ CD83⁻", "PD-L1⁺ CD83⁺", "PD-L1⁻ CD83⁺"], "range": ["#FF8C00", "#A80000", "#559B3A"]}, "legend": null}}},
      {"data": {"name": "c_star"}, "mark": {"type": "text", "fontSize": 8, "angle": 90}, "encoding": {"text": {"field": "t"}, "fill": {"field": "ser", "type": "nominal", "scale": {"domain": ["PD-L1⁺ CD83⁻", "PD-L1⁺ CD83⁺", "PD-L1⁻ CD83⁺"], "range": ["#FF8C00", "#A80000", "#559B3A"]}, "legend": null}}},
      {"data": {"name": "c_vl"}, "mark": {"type": "rule", "strokeWidth": 1.2}, "encoding": {"y2": {"field": "y2"}}},
      {"data": {"name": "c_lab"}, "transform": [{"filter": "datum.k == 's' || datum.k == 'm'"}], "mark": {"type": "text", "fontSize": 10.5, "color": "#000"}, "encoding": {"text": {"field": "t"}}},
      {"data": {"name": "c_lab"}, "transform": [{"filter": "datum.k == 'g'"}], "mark": {"type": "text", "align": "right", "fontSize": 10.5, "lineHeight": 11, "color": "#000"}, "encoding": {"text": {"field": "t"}}},
      {"data": {"name": "c_lab"}, "transform": [{"filter": "datum.k == 'c'"}], "mark": {"type": "text", "fontSize": 9, "lineHeight": 11, "color": "#000"}, "encoding": {"text": {"field": "t"}}},
      {"data": {"values": [{"x": -96, "y": -1.61, "t": "c"}]}, "mark": {"type": "text", "align": "left", "fontSize": 16, "fontWeight": "bold", "color": "#000"}, "encoding": {"text": {"field": "t"}}}
    ]
  },
  {
    "width": 417, "height": 170,
    "encoding": {
      "x": {"field": "x", "type": "quantitative", "scale": {"domain": [0.52, 10.48], "nice": false, "zero": false, "padding": 0}, "axis": {"labels": false, "ticks": false, "title": " ", "titlePadding": 61}},
      "y": {"field": "y", "type": "quantitative", "scale": {"domain": [0, 25, 30, 100], "range": [170, 101.25, 87, 17], "nice": false, "zero": false},
            "axis": {"values": [0, 5, 10, 15, 20, 25, 30, 40, 50, 60, 70, 80, 90, 100], "labelExpr": "indexof([0,10,20,40,60,80,100], datum.value) >= 0 ? datum.label : ''", "title": "% of pDCs", "labelFontSize": 11.5, "titleFontSize": 11.5}}
    },
    "layer": [
      {"data": {"name": "d_bar"}, "transform": [{"filter": {"field": "ser", "equal": "PD-L1⁺ CD80⁻"}}], "mark": {"type": "bar", "size": 7.5, "xOffset": -11.7},
       "encoding": {"color": {"field": "ser", "type": "nominal", "scale": {"domain": ["PD-L1⁺ CD80⁻", "PD-L1⁺ CD80⁺", "PD-L1⁻ CD80⁺"], "range": ["#FF8C00", "#9B6A2B", "#FF1010"]},
         "legend": {"orient": "none", "direction": "horizontal", "legendX": 2, "legendY": -30, "columnPadding": 22, "symbolType": "square"}}}},
      {"data": {"name": "d_bar"}, "transform": [{"filter": {"field": "ser", "equal": "PD-L1⁺ CD80⁺"}}], "mark": {"type": "bar", "size": 7.5, "xOffset": 0}, "encoding": {"color": {"field": "ser", "type": "nominal"}}},
      {"data": {"name": "d_bar"}, "transform": [{"filter": {"field": "ser", "equal": "PD-L1⁻ CD80⁺"}}], "mark": {"type": "bar", "size": 7.5, "xOffset": 11.7}, "encoding": {"color": {"field": "ser", "type": "nominal"}}},
      {"mark": {"type": "rect", "color": "#fff"}, "encoding": {"x": {"datum": 0.3}, "x2": {"datum": 10.6}, "y": {"datum": 25.3}, "y2": {"datum": 29.7}}},
      {"data": {"name": "d_err"}, "transform": [{"filter": {"field": "ser", "equal": "PD-L1⁺ CD80⁻"}}], "mark": {"type": "rule", "strokeWidth": 1, "xOffset": -11.7}, "encoding": {"y": {"field": "lo", "type": "quantitative"}, "y2": {"field": "hi"}}},
      {"data": {"name": "d_err"}, "transform": [{"filter": {"field": "ser", "equal": "PD-L1⁺ CD80⁺"}}], "mark": {"type": "rule", "strokeWidth": 1, "xOffset": 0}, "encoding": {"y": {"field": "lo", "type": "quantitative"}, "y2": {"field": "hi"}}},
      {"data": {"name": "d_err"}, "transform": [{"filter": {"field": "ser", "equal": "PD-L1⁻ CD80⁺"}}], "mark": {"type": "rule", "strokeWidth": 1, "xOffset": 11.7}, "encoding": {"y": {"field": "lo", "type": "quantitative"}, "y2": {"field": "hi"}}},
      {"data": {"name": "d_err"}, "transform": [{"filter": {"field": "ser", "equal": "PD-L1⁺ CD80⁻"}}], "mark": {"type": "tick", "orient": "horizontal", "size": 5, "thickness": 1, "xOffset": -11.7, "opacity": 1}, "encoding": {"y": {"field": "hi", "type": "quantitative"}}},
      {"data": {"name": "d_err"}, "transform": [{"filter": {"field": "ser", "equal": "PD-L1⁺ CD80⁺"}}], "mark": {"type": "tick", "orient": "horizontal", "size": 5, "thickness": 1, "xOffset": 0, "opacity": 1}, "encoding": {"y": {"field": "hi", "type": "quantitative"}}},
      {"data": {"name": "d_err"}, "transform": [{"filter": {"field": "ser", "equal": "PD-L1⁻ CD80⁺"}}], "mark": {"type": "tick", "orient": "horizontal", "size": 5, "thickness": 1, "xOffset": 11.7, "opacity": 1}, "encoding": {"y": {"field": "hi", "type": "quantitative"}}},
      {"data": {"name": "d_err"}, "transform": [{"filter": {"field": "ser", "equal": "PD-L1⁺ CD80⁻"}}], "mark": {"type": "tick", "orient": "horizontal", "size": 5, "thickness": 1, "xOffset": -11.7, "opacity": 1}, "encoding": {"y": {"field": "lo", "type": "quantitative"}}},
      {"data": {"name": "d_err"}, "transform": [{"filter": {"field": "ser", "equal": "PD-L1⁺ CD80⁺"}}], "mark": {"type": "tick", "orient": "horizontal", "size": 5, "thickness": 1, "xOffset": 0, "opacity": 1}, "encoding": {"y": {"field": "lo", "type": "quantitative"}}},
      {"data": {"name": "d_err"}, "transform": [{"filter": {"field": "ser", "equal": "PD-L1⁻ CD80⁺"}}], "mark": {"type": "tick", "orient": "horizontal", "size": 5, "thickness": 1, "xOffset": 11.7, "opacity": 1}, "encoding": {"y": {"field": "lo", "type": "quantitative"}}},
      {"data": {"name": "d_pts"}, "transform": [{"filter": {"field": "ser", "equal": "PD-L1⁺ CD80⁻"}}], "mark": {"type": "point", "filled": true, "size": 22, "color": "#000", "opacity": 1, "xOffset": -11.7}},
      {"data": {"name": "d_pts"}, "transform": [{"filter": {"field": "ser", "equal": "PD-L1⁺ CD80⁺"}}], "mark": {"type": "point", "filled": true, "size": 22, "color": "#000", "opacity": 1, "xOffset": 0}},
      {"data": {"name": "d_pts"}, "transform": [{"filter": {"field": "ser", "equal": "PD-L1⁻ CD80⁺"}}], "mark": {"type": "point", "filled": true, "size": 22, "color": "#000", "opacity": 1, "xOffset": 11.7}},
      {"data": {"name": "d_dash"}, "mark": {"type": "rule", "strokeDash": [6, 4], "strokeWidth": 1.1, "color": "#333"}, "encoding": {"y2": {"field": "y2"}}},
      {"data": {"name": "d_sig"}, "mark": {"type": "rule", "strokeWidth": 1.2}, "encoding": {"x2": {"field": "x2"}, "stroke": {"field": "ser", "type": "nominal", "scale": {"domain": ["PD-L1⁺ CD80⁻", "PD-L1⁺ CD80⁺", "PD-L1⁻ CD80⁺"], "range": ["#FF8C00", "#9B6A2B", "#FF1010"]}, "legend": null}}},
      {"data": {"name": "d_sig"}, "mark": {"type": "text", "dy": -3, "fontSize": 9}, "encoding": {"x": {"field": "xs", "type": "quantitative"}, "text": {"value": "*"}, "fill": {"field": "ser", "type": "nominal", "scale": {"domain": ["PD-L1⁺ CD80⁻", "PD-L1⁺ CD80⁺", "PD-L1⁻ CD80⁺"], "range": ["#FF8C00", "#9B6A2B", "#FF1010"]}, "legend": null}}},
      {"data": {"name": "d_lab"}, "transform": [{"filter": "datum.lvl == 0"}], "mark": {"type": "text", "align": "right", "dy": 11, "fontSize": 9.5, "color": "#000"}, "encoding": {"text": {"field": "t"}}},
      {"data": {"name": "d_lab"}, "transform": [{"filter": "datum.lvl == 1"}], "mark": {"type": "text", "dy": 11, "fontSize": 10.5, "color": "#000"}, "encoding": {"text": {"field": "t"}}},
      {"data": {"name": "d_lab"}, "transform": [{"filter": "datum.lvl == 2"}], "mark": {"type": "text", "dy": 25, "fontSize": 11, "color": "#000"}, "encoding": {"text": {"field": "t"}}},
      {"data": {"name": "d_lab"}, "transform": [{"filter": "datum.lvl == 3"}], "mark": {"type": "text", "dy": 45, "fontSize": 11, "color": "#000"}, "encoding": {"text": {"field": "t"}}},
      {"data": {"name": "d_line"}, "transform": [{"filter": "datum.lvl == 1"}], "mark": {"type": "rule", "yOffset": 16, "strokeWidth": 1, "color": "#555"}, "encoding": {"x2": {"field": "x2"}}},
      {"data": {"name": "d_line"}, "transform": [{"filter": "datum.lvl == 2"}], "mark": {"type": "rule", "yOffset": 35, "strokeWidth": 1, "color": "#555"}, "encoding": {"x2": {"field": "x2"}}},
      {"data": {"values": [{"x": -0.27, "y": 158, "t": "d"}]}, "mark": {"type": "text", "align": "left", "fontSize": 16, "fontWeight": "bold", "color": "#000"}, "encoding": {"text": {"field": "t"}}}
    ]
  }
  ],
  "spacing": 85, "bounds": "flush",
  "resolve": {"scale": {"color": "independent", "fill": "independent", "shape": "independent", "stroke": "independent"}}
},
{
  "hconcat": [
  {
    "width": 167, "height": 182,
    "encoding": {
      "x": {"field": "x", "type": "quantitative", "scale": {"domain": [-50, 127.66], "nice": false, "zero": false}, "axis": {"domain": false, "values": [0, 50, 100], "title": "% of mTRAIL⁺ pDCs", "titleX": 94, "labelFontSize": 11.5, "titleFontSize": 11, "labelPadding": 1, "titlePadding": 1}},
      "y": {"field": "y", "type": "quantitative", "scale": {"domain": [0.68, 10.48], "reverse": true, "nice": false, "zero": false, "padding": 0}, "axis": null}
    },
    "layer": [
      {"data": {"name": "e_seg"}, "mark": {"type": "bar", "orient": "horizontal", "size": 12},
       "encoding": {"x2": {"field": "x2"}, "color": {"field": "ser", "type": "nominal", "scale": {"domain": ["PD-L1⁺ CD83⁻", "PD-L1⁺ CD83⁺", "PD-L1⁻ CD83⁺", "PD-L1⁻ CD83⁻"], "range": ["#FF8C00", "#A80000", "#559B3A", "#A9A9A9"]},
         "legend": {"orient": "none", "legendX": 65, "legendY": -69, "rowPadding": 5, "symbolType": "square"}}}},
      {"data": {"values": [{"x": 0, "x2": 100, "y": 10.48}]}, "mark": {"type": "rule", "strokeWidth": 1.2}, "encoding": {"x2": {"field": "x2"}}},
      {"data": {"name": "yt10"}, "mark": {"type": "tick", "orient": "horizontal", "size": 3, "thickness": 1.2, "xOffset": -1.5, "opacity": 1}},
      {"data": {"name": "e_err"}, "mark": {"type": "rule", "strokeWidth": 1}, "encoding": {"x2": {"field": "x2"}}},
      {"data": {"name": "e_err"}, "mark": {"type": "tick", "orient": "vertical", "size": 6, "thickness": 1, "opacity": 1}, "encoding": {"x": {"field": "x2", "type": "quantitative"}}},
      {"data": {"name": "e_dash"}, "mark": {"type": "rule", "strokeDash": [6, 4], "strokeWidth": 1.1}, "encoding": {"x2": {"field": "x2"}}},
      {"data": {"name": "e_sig"}, "mark": {"type": "rule", "strokeWidth": 1}, "encoding": {"y2": {"field": "y2"}}},
      {"data": {"name": "e_star"}, "mark": {"type": "text", "fontSize": 9, "color": "#000"}, "encoding": {"text": {"field": "t"}}},
      {"data": {"name": "e_vl"}, "mark": {"type": "rule", "strokeWidth": 1.2}, "encoding": {"y2": {"field": "y2"}}},
      {"data": {"name": "e_lab"}, "transform": [{"filter": "datum.k == 's' || datum.k == 'm'"}], "mark": {"type": "text", "fontSize": 10.5, "color": "#000"}, "encoding": {"text": {"field": "t"}}},
      {"data": {"name": "e_lab"}, "transform": [{"filter": "datum.k == 'g'"}], "mark": {"type": "text", "align": "right", "fontSize": 10.5, "lineHeight": 12, "color": "#000"}, "encoding": {"text": {"field": "t"}}},
      {"data": {"name": "e_lab"}, "transform": [{"filter": "datum.k == 'c'"}], "mark": {"type": "text", "fontSize": 9, "lineHeight": 10, "color": "#000"}, "encoding": {"text": {"field": "t"}}},
      {"data": {"values": [{"x": -76.6, "y": -3.36, "t": "e"}]}, "mark": {"type": "text", "align": "left", "fontSize": 16, "fontWeight": "bold", "color": "#000"}, "encoding": {"text": {"field": "t"}}}
    ]
  },
  {
    "width": 94, "height": 185,
    "encoding": {
      "x": {"field": "x", "type": "quantitative", "scale": {"domain": [0, 100], "nice": false}, "axis": {"values": [0, 50, 100], "title": "% of cells", "labelFontSize": 11.5, "titleFontSize": 11, "labelPadding": 1, "titlePadding": 1}},
      "y": {"field": "y", "type": "quantitative", "scale": {"domain": [0.522, 8.565], "reverse": true, "nice": false, "zero": false, "padding": 0}, "axis": {"values": [1,2,3,4,5,6,7,8], "labels": false, "title": null, "tickSize": 3}}
    },
    "layer": [
      {"data": {"name": "f_seg"}, "mark": {"type": "bar", "orient": "horizontal", "size": 13},
       "encoding": {"x2": {"field": "x2"}, "color": {"field": "ser", "type": "nominal", "scale": {"domain": ["Annexin V⁺ 7-AAD⁻", "Annexin V⁺ 7-AAD⁺"], "range": ["#8C8C8C", "#4A4A4A"]},
         "legend": {"orient": "none", "legendX": -5, "legendY": -57, "rowPadding": 6, "symbolType": "square"}}}},
      {"data": {"name": "f_err"}, "mark": {"type": "rule", "strokeWidth": 1}, "encoding": {"x2": {"field": "x2"}}},
      {"data": {"name": "f_err"}, "mark": {"type": "tick", "orient": "vertical", "size": 6, "thickness": 1, "opacity": 1}, "encoding": {"x": {"field": "x2", "type": "quantitative"}}},
      {"data": {"values": [{"x": 90.4, "y": 1.91, "y2": 5.91}]}, "mark": {"type": "rule", "strokeWidth": 1, "color": "#AAAAAA"}, "encoding": {"y2": {"field": "y2"}}},
      {"data": {"values": [{"x": 94.7, "y": 3.87, "t": "*"}]}, "mark": {"type": "text", "fontSize": 8, "color": "#AAAAAA"}, "encoding": {"text": {"field": "t"}}},
      {"data": {"name": "f_vl"}, "mark": {"type": "rule", "strokeWidth": 1}, "encoding": {"y2": {"field": "y2"}}},
      {"data": {"name": "f_lab"}, "transform": [{"filter": "datum.k == 's'"}], "mark": {"type": "text", "fontSize": 10.5, "color": "#000"}, "encoding": {"text": {"field": "t"}}},
      {"data": {"name": "f_lab"}, "transform": [{"filter": "datum.k == 'm'"}], "mark": {"type": "text", "fontSize": 11, "lineHeight": 13, "color": "#000"}, "encoding": {"text": {"field": "t"}}},
      {"data": {"name": "f_lab"}, "transform": [{"filter": "datum.k == 'c'"}], "mark": {"type": "text", "fontSize": 9, "lineHeight": 10, "color": "#000"}, "encoding": {"text": {"field": "t"}}},
      {"data": {"values": [{"x": -100, "y": -2.78, "t": "f"}]}, "mark": {"type": "text", "align": "left", "fontSize": 16, "fontWeight": "bold", "color": "#000"}, "encoding": {"text": {"field": "t"}}}
    ]
  },
  {
    "width": 96, "height": 182,
    "encoding": {
      "x": {"field": "x", "type": "quantitative", "scale": {"domain": [50, 100], "nice": false, "zero": false}, "axis": {"values": [50, 62.5, 75, 87.5, 100], "labelExpr": "datum.value % 25 == 0 ? datum.label : ''", "title": "% of living cells", "labelFontSize": 11.5, "titleFontSize": 11, "labelPadding": 1, "titlePadding": 1}},
      "y": {"field": "y", "type": "quantitative", "scale": {"domain": [0.686, 4.375], "reverse": true, "nice": false, "zero": false, "padding": 0}, "axis": {"labels": false, "ticks": false, "title": null}}
    },
    "layer": [
      {"data": {"name": "g_bar"}, "transform": [{"filter": {"field": "ser", "equal": "in pDCs"}}], "mark": {"type": "bar", "orient": "horizontal", "size": 12.7, "yOffset": -9.5},
       "encoding": {"x2": {"datum": 50}, "color": {"field": "ser", "type": "nominal", "scale": {"domain": ["in pDCs", "in infected cells/non-pDCs"], "range": ["#808080", "#0A14FF"]},
         "legend": {"orient": "none", "legendX": -39, "legendY": -57, "rowPadding": 6, "symbolType": "square", "symbolStrokeWidth": 0}}}},
      {"data": {"name": "g_bar"}, "transform": [{"filter": {"field": "ser", "equal": "in infected cells/non-pDCs"}}], "mark": {"type": "bar", "orient": "horizontal", "size": 12.7, "yOffset": 9.5},
       "encoding": {"x2": {"datum": 50}, "color": {"field": "ser", "type": "nominal"}}},
      {"data": {"name": "g_errP"}, "mark": {"type": "rule", "strokeWidth": 1, "yOffset": -9.5}, "encoding": {"x2": {"field": "x2"}}},
      {"data": {"name": "g_errP"}, "mark": {"type": "tick", "orient": "vertical", "size": 6, "thickness": 1, "yOffset": -9.5, "opacity": 1}},
      {"data": {"name": "g_errP"}, "mark": {"type": "tick", "orient": "vertical", "size": 6, "thickness": 1, "yOffset": -9.5, "opacity": 1}, "encoding": {"x": {"field": "x2", "type": "quantitative"}}},
      {"data": {"name": "g_errB"}, "mark": {"type": "rule", "strokeWidth": 1.2, "yOffset": 9.5, "color": "#6E8BFF"}, "encoding": {"x2": {"field": "x2"}}},
      {"data": {"name": "g_errB"}, "mark": {"type": "tick", "orient": "vertical", "size": 6, "thickness": 1.2, "yOffset": 9.5, "color": "#6E8BFF", "opacity": 1}, "encoding": {"x": {"field": "x2", "type": "quantitative"}}},
      {"data": {"name": "g_pts"}, "transform": [{"filter": {"field": "ser", "equal": "in pDCs"}}], "mark": {"type": "point", "filled": true, "size": 22, "color": "#000", "opacity": 1, "yOffset": -9.5}},
      {"data": {"name": "g_pts"}, "transform": [{"filter": {"field": "ser", "equal": "in infected cells/non-pDCs"}}], "mark": {"type": "point", "filled": true, "size": 22, "color": "#000", "opacity": 1, "yOffset": 9.5}},
      {"data": {"name": "g_vl"}, "mark": {"type": "rule", "strokeWidth": 1.2, "color": "#555"}, "encoding": {"y2": {"field": "y2"}}},
      {"data": {"name": "g_lab"}, "transform": [{"filter": "datum.k == 's'"}], "mark": {"type": "text", "fontSize": 10.5, "color": "#000"}, "encoding": {"text": {"field": "t"}}},
      {"data": {"name": "g_lab"}, "transform": [{"filter": "datum.k == 'm'"}], "mark": {"type": "text", "fontSize": 11, "lineHeight": 15, "color": "#000"}, "encoding": {"text": {"field": "t"}}},
      {"data": {"name": "g_lab"}, "transform": [{"filter": "datum.k == 'c'"}], "mark": {"type": "text", "fontSize": 8.5, "lineHeight": 10, "color": "#000"}, "encoding": {"text": {"field": "t"}}},
      {"data": {"values": [{"x": 20.3, "y": -0.835, "t": "g"}]}, "mark": {"type": "text", "align": "left", "fontSize": 16, "fontWeight": "bold", "color": "#000"}, "encoding": {"text": {"field": "t"}}}
    ]
  }
  ],
  "spacing": 121, "bounds": "flush",
  "resolve": {"scale": {"color": "independent", "fill": "independent", "shape": "independent", "stroke": "independent"}}
}
]
}
